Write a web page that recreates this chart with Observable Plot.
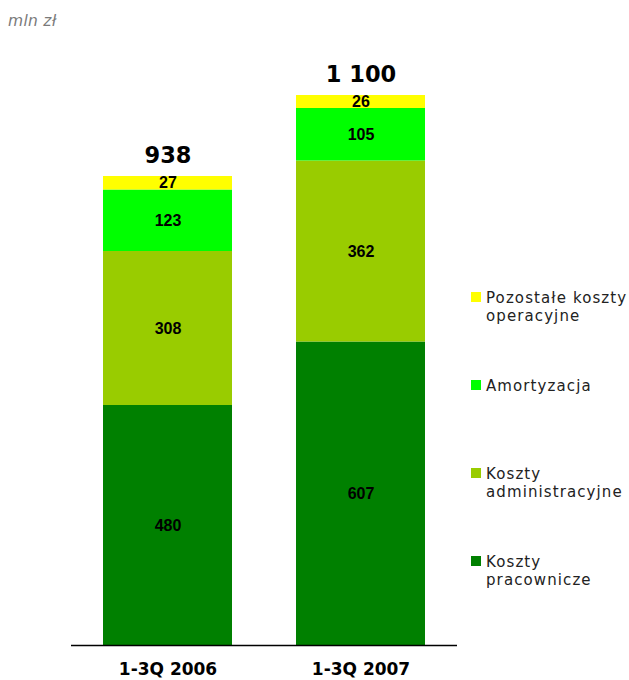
<!DOCTYPE html>
<html>
<head>
<meta charset="utf-8">
<script src="https://cdn.jsdelivr.net/npm/d3@7"></script>
<script src="https://cdn.jsdelivr.net/npm/@observablehq/plot@0.6"></script>
<style>
  html, body { margin: 0; padding: 0; background: #fff; }
  #wrap { position: relative; width: 629px; height: 680px; font-family: "DejaVu Sans", Verdana, sans-serif; }
  #unit { position: absolute; left: 8px; top: 12px; font-size: 15.5px; line-height: 18px; font-style: italic; color: #7a7a7a; letter-spacing: 0.3px; }
  #legend { position: absolute; left: 471px; top: 289px; display: flex; flex-direction: column; }
  .item { display: flex; align-items: flex-start; height: 88px; }
  .sw { width: 10px; height: 10px; margin-top: 3px; margin-right: 5px; flex: none; }
  .lab { font-size: 15px; line-height: 18px; letter-spacing: 1.1px; color: #222; width: 155px; }
</style>
</head>
<body>
<div id="wrap">
  <div id="chart"></div>
  <div id="unit">mln zł</div>
  <div id="legend"></div>
</div>
<script>
const categories = ["1-3Q 2006", "1-3Q 2007"];
const seriesNames = ["Koszty pracownicze", "Koszty administracyjne", "Amortyzacja", "Pozostałe koszty operacyjne"];
const legendLines = [["Koszty", "pracownicze"], ["Koszty", "administracyjne"], ["Amortyzacja"], ["Pozostałe koszty", "operacyjne"]];
const seriesColors = ["#008000", "#99CC00", "#00FF00", "#FFFF00"];
const pracownicze = [480, 607];
const administracyjne = [308, 362];
const amortyzacja = [123, 105];
const pozostale = [27, 26];

const seriesValues = [pracownicze, administracyjne, amortyzacja, pozostale];
const data = [];
seriesNames.forEach((s, si) => {
  categories.forEach((c, ci) => data.push({cat: c, series: s, value: seriesValues[si][ci]}));
});
const totals = categories.map((c, ci) => ({cat: c, total: d3.sum(seriesValues, v => v[ci])}));
const fmt = v => d3.format(",")(v).replace(/,/g, " ");

const chart = Plot.plot({
  width: 629,
  height: 680,
  marginLeft: 71,
  marginRight: 172,
  marginTop: 95,
  marginBottom: 35,
  style: {fontFamily: "'DejaVu Sans', Verdana, sans-serif", background: "#fff", overflow: "visible"},
  x: {domain: categories, paddingInner: 0.33, paddingOuter: 0.165, label: null},
  y: {domain: [0, 1100], axis: null},
  color: {domain: seriesNames, range: seriesColors},
  marks: [
    Plot.barY(data, {x: "cat", y: "value", fill: "series"}),
    Plot.text(data, Plot.stackY({x: "cat", y: "value", text: d => String(d.value),
      fontFamily: "'Liberation Sans', Arial, sans-serif", fontWeight: "bold", fontSize: 16, fill: "#000"})),
    Plot.text(totals, {x: "cat", y: "total", text: d => fmt(d.total), lineAnchor: "bottom", dy: -14,
      fontSize: 22.5, fontWeight: "bold", fill: "#000"}),
    Plot.ruleY([0], {stroke: "#000", strokeWidth: 1.5}),
    Plot.axisX({tickSize: 0, tickPadding: 17, fontSize: 17, fontWeight: "bold", fill: "#000", label: null})
  ]
});
document.getElementById("chart").appendChild(chart);

const legend = document.getElementById("legend");
[3, 2, 1, 0].forEach(i => {
  const item = document.createElement("div");
  item.className = "item";
  const sw = document.createElement("div");
  sw.className = "sw";
  sw.style.background = seriesColors[i];
  const lab = document.createElement("div");
  lab.className = "lab";
  lab.innerHTML = legendLines[i].join("<br>");
  item.appendChild(sw);
  item.appendChild(lab);
  legend.appendChild(item);
});
</script>
</body>
</html>
